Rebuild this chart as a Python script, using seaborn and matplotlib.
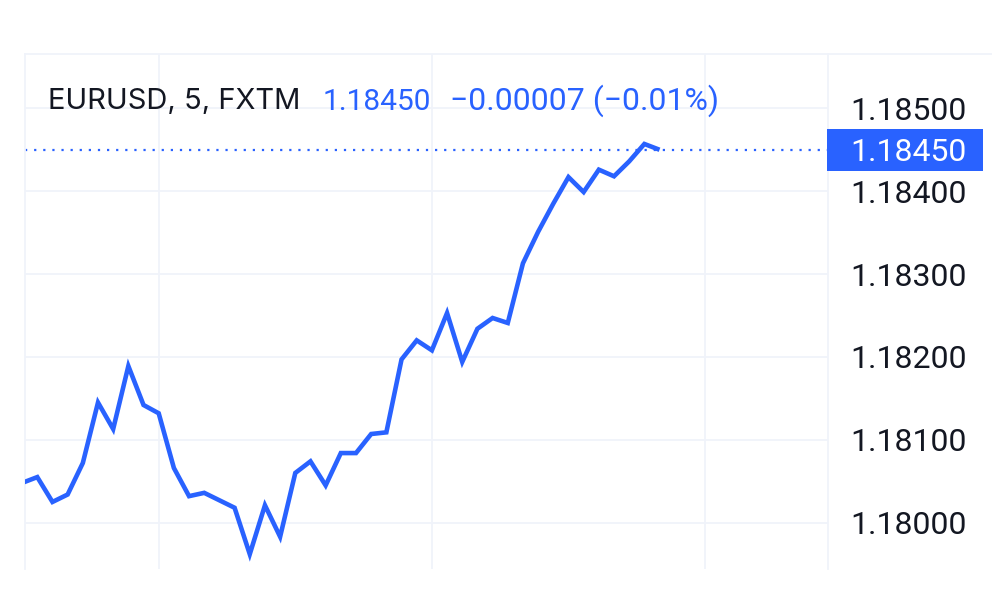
import numpy as np
import pandas as pd
import matplotlib.pyplot as plt
import matplotlib.transforms as mtransforms
from matplotlib.lines import Line2D
from matplotlib.patches import Rectangle
import seaborn as sns

# 5-minute EURUSD closes (FXTM)
bar_index = list(range(43))
close_prices = [
    1.18048, 1.18055, 1.18025, 1.18034, 1.18072, 1.18145, 1.18113, 1.18189,
    1.18142, 1.18132, 1.18066, 1.18032, 1.18036, 1.18027, 1.18018, 1.17962,
    1.18021, 1.17983, 1.18060, 1.18074, 1.18045, 1.18084, 1.18084, 1.18107,
    1.18109, 1.18197, 1.18220, 1.18208, 1.18253, 1.18194, 1.18234, 1.18247,
    1.18241, 1.18313, 1.18351, 1.18385, 1.18417, 1.18399, 1.18426, 1.18418,
    1.18436, 1.18457, 1.18450,
]
symbol_label = "EURUSD, 5, FXTM"
last_price = 1.18450
change_label = "\u22120.00007 (\u22120.01%)"
price_ticks = [1.180, 1.181, 1.182, 1.183, 1.184, 1.185]
time_grid = [9, 27, 45]

BLUE = "#2962ff"
GRID = "#f0f3fa"
TEXT = "#131722"

df = pd.DataFrame({"bar": bar_index, "close": close_prices})

sns.set_theme(style="white")
plt.rcParams['font.family'] = ['Roboto', 'DejaVu Sans']

W, H = 992, 600
fig = plt.figure(figsize=(W / 100, H / 100), dpi=100)
ax = fig.add_axes([25 / W, 31 / H, 803 / W, 514.7 / H])

sns.lineplot(data=df, x="bar", y="close", ax=ax, color=BLUE, linewidth=3.3,
             solid_joinstyle="miter", solid_capstyle="butt", zorder=3)

ax.set_xlim(0.19, 53.1)
ax.set_ylim(1.179441, 1.185652)

# grid
ax.set_yticks(price_ticks)
ax.set_yticklabels([f"{v:.5f}" for v in price_ticks])
ax.set_xticks(time_grid)
ax.set_xticklabels([])
ax.grid(True, color=GRID, linewidth=1.3, zorder=0)
ax.set_xlabel("")
ax.set_ylabel("")
ax.yaxis.tick_right()
ax.tick_params(axis="y", length=0, pad=16, labelsize=23, labelcolor=TEXT)
ax.tick_params(axis="x", length=0)
for side in ["left", "right", "top"]:
    ax.spines[side].set_color(GRID)
    ax.spines[side].set_linewidth(1.3)
ax.spines["bottom"].set_visible(False)

# top border continues over the price scale
fig.add_artist(Line2D([828 / W, 1.0], [1 - 54.3 / H] * 2, color=GRID, linewidth=1.3))

# last price dotted line
ax.axhline(last_price, color=BLUE, linewidth=1.6, linestyle=(0, (1, 3.1)), zorder=2)

# last price label on the scale
blend = mtransforms.blended_transform_factory(fig.transFigure, ax.transData)
box_h = 42 / 82.88 * 0.001
fig.add_artist(Rectangle((826.7 / W, last_price - box_h / 2), 156 / W, box_h,
                         transform=blend, facecolor=BLUE, edgecolor="none", clip_on=False))
fig.text(850 / W, last_price, f"{last_price:.5f}", transform=blend, color="white",
         fontsize=23, va="center_baseline", ha="left")

# header
base_y = 1 - 109.5 / H
fig.text(48 / W, base_y, symbol_label, color=TEXT, fontsize=21, va="baseline",
         family=['Inter', 'DejaVu Sans'])
fig.text(322.5 / W, base_y, f"{last_price:.5f}", color=BLUE, fontsize=21.5, va="baseline")
fig.text(450.5 / W, base_y, change_label, color=BLUE, fontsize=23, va="baseline")

fig.savefig("out.png", dpi=100, facecolor="white")
